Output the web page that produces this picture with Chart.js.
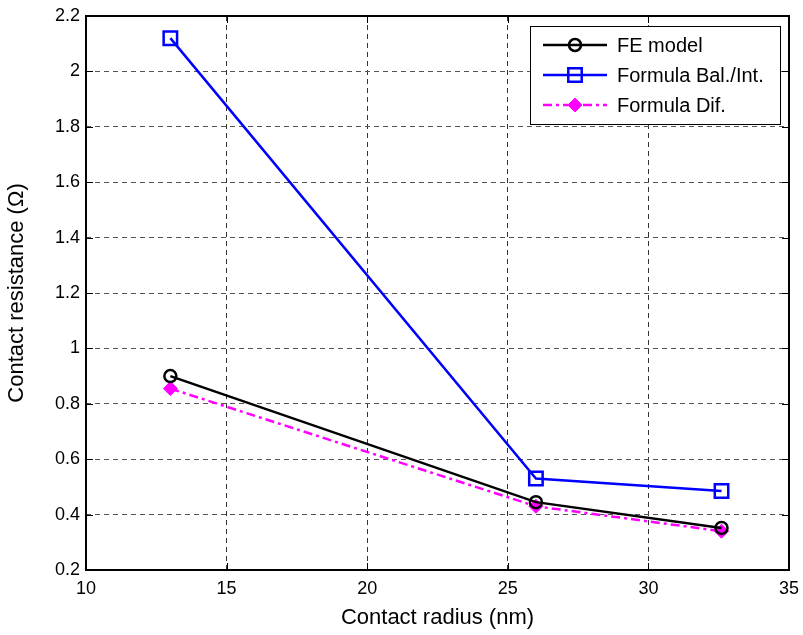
<!DOCTYPE html>
<html>
<head>
<meta charset="utf-8">
<script src="https://cdn.jsdelivr.net/npm/chart.js@4/dist/chart.umd.min.js"></script>
<style>
  html, body { margin: 0; padding: 0; background: #fff; }
  #wrap { width: 803px; height: 635px; }
</style>
</head>
<body>
<div id="wrap"><canvas id="c" width="803" height="635"></canvas></div>
<script>
// data
var radius = [13, 26, 32.6];
var feModel = [0.90, 0.445, 0.352];
var formulaBal = [2.12, 0.53, 0.485];
var formulaDif = [0.855, 0.43, 0.34];
var seriesNames = ['FE model', 'Formula Bal./Int.', 'Formula Dif.'];
var xTicks = [10, 15, 20, 25, 30, 35];
var yTicks = [0.2, 0.4, 0.6, 0.8, 1, 1.2, 1.4, 1.6, 1.8, 2, 2.2];

var FONT = '"Liberation Sans", Arial, sans-serif';

function pts(ys) {
    return radius.map(function (x, i) { return { x: x, y: ys[i] }; });
}

// frame, inward ticks and legend box like MATLAB
var matlabBits = {
    id: 'matlabBits',
    afterDraw: function (chart) {
        var ctx = chart.ctx, a = chart.chartArea;
        var xs = chart.scales.x, ys = chart.scales.y;
        ctx.save();
        ctx.strokeStyle = '#000';
        ctx.lineWidth = 1;
        ctx.setLineDash([]);
        ctx.beginPath();
        xTicks.forEach(function (v) {
            var px = Math.round(xs.getPixelForValue(v)) + 0.5;
            ctx.moveTo(px, a.bottom); ctx.lineTo(px, a.bottom - 7);
            ctx.moveTo(px, a.top); ctx.lineTo(px, a.top + 7);
        });
        yTicks.forEach(function (v) {
            var py = Math.round(ys.getPixelForValue(v)) + 0.5;
            ctx.moveTo(a.left, py); ctx.lineTo(a.left + 7, py);
            ctx.moveTo(a.right, py); ctx.lineTo(a.right - 7, py);
        });
        ctx.stroke();
        ctx.lineWidth = 2;
        ctx.strokeRect(a.left, a.top, a.right - a.left, a.bottom - a.top);

        // legend
        var lx = 530, ly = 26, lw = 250, lh = 98;
        ctx.fillStyle = '#fff';
        ctx.fillRect(lx, ly, lw, lh);
        ctx.lineWidth = 1;
        ctx.strokeRect(lx + 0.5, ly + 0.5, lw, lh);
        var ds = chart.data.datasets;
        ctx.font = '20px ' + FONT;
        ctx.textBaseline = 'middle';
        ds.forEach(function (d, i) {
            var yy = ly + 19 + i * 30;
            ctx.strokeStyle = d.borderColor;
            ctx.lineWidth = 2.5;
            ctx.setLineDash(d.borderDash || []);
            ctx.beginPath();
            ctx.moveTo(lx + 13, yy); ctx.lineTo(lx + 77, yy);
            ctx.stroke();
            ctx.setLineDash([]);
            ctx.fillStyle = d.pointBackgroundColor;
            ctx.strokeStyle = d.borderColor;
            ctx.lineWidth = d.pointBorderWidth;
            Chart.helpers.drawPoint(ctx, {
                pointStyle: d.pointStyle, radius: d.pointRadius, rotation: 0,
                borderWidth: d.pointBorderWidth
            }, lx + 45, yy);
            ctx.fillStyle = '#000';
            ctx.fillText(seriesNames[i], lx + 87, yy + 1);
        });
        ctx.restore();
    }
};

new Chart(document.getElementById('c'), {
    type: 'line',
    data: {
        datasets: [{
            label: seriesNames[0],
            data: pts(feModel),
            borderColor: '#000',
            borderWidth: 2.5,
            pointStyle: 'circle',
            pointRadius: 6,
            pointBorderWidth: 2.5,
            pointBackgroundColor: 'rgba(255,255,255,0)'
        }, {
            label: seriesNames[1],
            data: pts(formulaBal),
            borderColor: '#0000ff',
            borderWidth: 2.5,
            pointStyle: 'rect',
            pointRadius: 9.5,
            pointBorderWidth: 2.5,
            pointBackgroundColor: 'rgba(255,255,255,0)'
        }, {
            label: seriesNames[2],
            data: pts(formulaDif),
            borderColor: '#ff00ff',
            borderWidth: 2.5,
            borderDash: [9, 4, 3, 4],
            pointStyle: 'rectRot',
            pointRadius: 7,
            pointBorderWidth: 1,
            pointBackgroundColor: '#ff00ff'
        }]
    },
    options: {
        responsive: false,
        animation: false,
        events: [],
        layout: { padding: { top: 16, right: 14, left: 0, bottom: 0 } },
        plugins: { legend: { display: false }, tooltip: { enabled: false } },
        scales: {
            x: {
                type: 'linear',
                min: 10, max: 35,
                afterBuildTicks: function (s) { s.ticks = xTicks.map(function (v) { return { value: v }; }); },
                afterFit: function (s) { s.height = 65; s.paddingRight = 0; s.paddingLeft = 0; },
                grid: { color: '#333', lineWidth: 1, drawTicks: false },
                border: { display: false, dash: [5, 4] },
                ticks: { color: '#000', font: { family: FONT, size: 18 }, padding: 8, maxRotation: 0 },
                title: { display: true, text: 'Contact radius (nm)', color: '#000',
                         font: { family: FONT, size: 22 }, padding: { top: 2 } }
            },
            y: {
                type: 'linear',
                min: 0.2, max: 2.2,
                afterBuildTicks: function (s) { s.ticks = yTicks.map(function (v) { return { value: v }; }); },
                afterFit: function (s) { s.width = 86; s.paddingTop = 0; s.paddingBottom = 0; },
                grid: { color: '#555', lineWidth: 1, drawTicks: false },
                border: { display: false, dash: [5, 4] },
                ticks: { color: '#000', font: { family: FONT, size: 18 }, padding: 6,
                         callback: function (v) { return String(Number(v.toFixed(1))); } },
                title: { display: true, text: 'Contact resistance (Ω)', color: '#000',
                         font: { family: FONT, size: 22 }, padding: { bottom: 2 } }
            }
        }
    },
    plugins: [matlabBits]
});
</script>
</body>
</html>
